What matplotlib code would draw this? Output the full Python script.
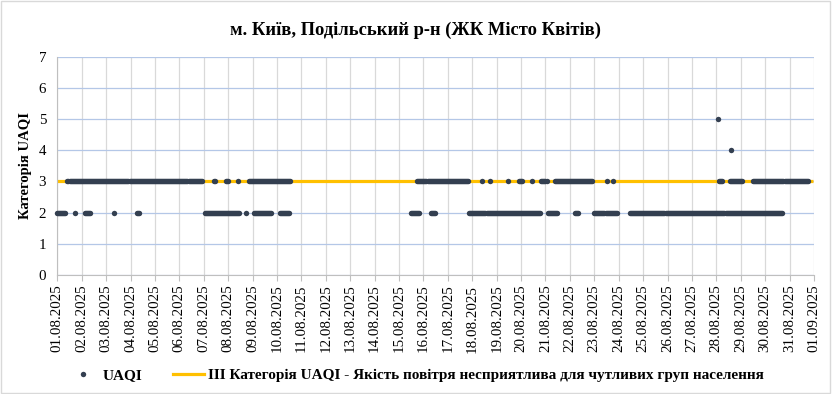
import numpy as np
import pandas as pd
import matplotlib
matplotlib.use("Agg")
import matplotlib.pyplot as plt
from matplotlib.lines import Line2D
from matplotlib.patches import Rectangle

# Hourly UAQI readings, August 2025 (hours counted from 01.08.2025 00:00).
# Runs of consecutive hours with the same category.
cat3_runs = [(10, 142), (154, 155), (166, 168), (178, 178), (188, 229),
             (354, 404), (418, 418), (425, 425), (443, 443), (454, 457),
             (467, 467), (476, 481), (489, 526), (540, 540), (546, 546),
             (651, 654), (661, 673), (684, 738)]
cat2_runs = [(0, 8), (17, 17), (27, 32), (56, 56), (78, 80), (145, 179),
             (186, 186), (193, 210), (219, 228), (348, 356), (367, 371),
             (405, 475), (482, 491), (509, 512), (528, 550), (563, 713)]
peak_hours = [650, 662]
peak_values = [5, 4]

threshold = 3  # III category
start_date = "2025-08-01"
n_days = 31

title = "м. Київ, Подільський р-н (ЖК Місто Квітів)"
ylabel = "Категорія UAQI"
legend_uaqi = "UAQI"
legend_line = "III Категорія UAQI - Якість повітря несприятлива для чутливих груп населення"


def expand(runs, value):
    hrs = []
    for a, b in runs:
        hrs.extend(range(a, b + 1))
    return np.array(hrs), np.full(len(hrs), value)


h3, v3 = expand(cat3_runs, 3)
h2, v2 = expand(cat2_runs, 2)
hours = np.concatenate([h2, h3, peak_hours])
vals = np.concatenate([v2, v3, peak_values])

all_hours = np.arange(0, n_days * 24)
tick_dates = pd.date_range(start_date, periods=n_days + 1, freq="D")
tick_labels = [d.strftime("%d.%m.%Y") for d in tick_dates]

plt.rcParams["font.family"] = ["Liberation Serif", "DejaVu Serif"]

fig = plt.figure(figsize=(8.32, 3.94), dpi=100)
ax = fig.add_axes([57.3 / 832, 1 - 275 / 394, (814 - 57.3) / 832, (275 - 56.7) / 394])

dot_color = "#333f50"
line_color = "#ffc000"

ax.plot(all_hours, np.full(len(all_hours), threshold), color=line_color, lw=2.3,
        solid_capstyle="butt", zorder=2)
ax.plot(hours, vals, "o", color=dot_color, ms=3.9, mew=0, zorder=3, clip_on=False)

ax.set_xlim(0, n_days * 24)
ax.set_ylim(0, 7)
ax.set_xticks(np.arange(0, n_days * 24 + 1, 24))
ax.set_xticklabels(tick_labels, rotation=90, fontsize=10.8)
ax.set_yticks(range(0, 8))
ax.tick_params(axis="y", length=0, labelsize=10.8, pad=8)
ax.tick_params(axis="x", length=4, color="#bfbfbf", pad=3)

ax.grid(True, axis="x", color="#d9d9d9", lw=0.9)
ax.grid(True, axis="y", color="#b4c7e7", lw=0.9)
ax.set_axisbelow(True)
for s in ["top", "right"]:
    ax.spines[s].set_visible(False)
for s in ["left", "bottom"]:
    ax.spines[s].set_color("#bfbfbf")

ax.set_ylabel(ylabel, fontsize=10.5, fontweight="bold", labelpad=5)
fig.text(0.5, 1 - 30 / 394, title, ha="center", va="center", fontsize=13.3,
         fontweight="bold")

handles = [
    Line2D([], [], marker="o", ls="none", color=dot_color, ms=3.9, mew=0),
    Line2D([], [], color=line_color, lw=2.3),
]
fig.legend(handles, [legend_uaqi, legend_line], loc="center",
           bbox_to_anchor=(0.5, 1 - 375 / 394), ncol=2, frameon=False,
           prop={"weight": "bold", "size": 11}, handlelength=2.0,
           columnspacing=2.0, handletextpad=0.3)

fig.patches.append(Rectangle((0.001, 0.002), 0.997, 0.995, transform=fig.transFigure,
                             fill=False, edgecolor="#d9d9d9", lw=1.0))

fig.savefig("out.png", dpi=100)
